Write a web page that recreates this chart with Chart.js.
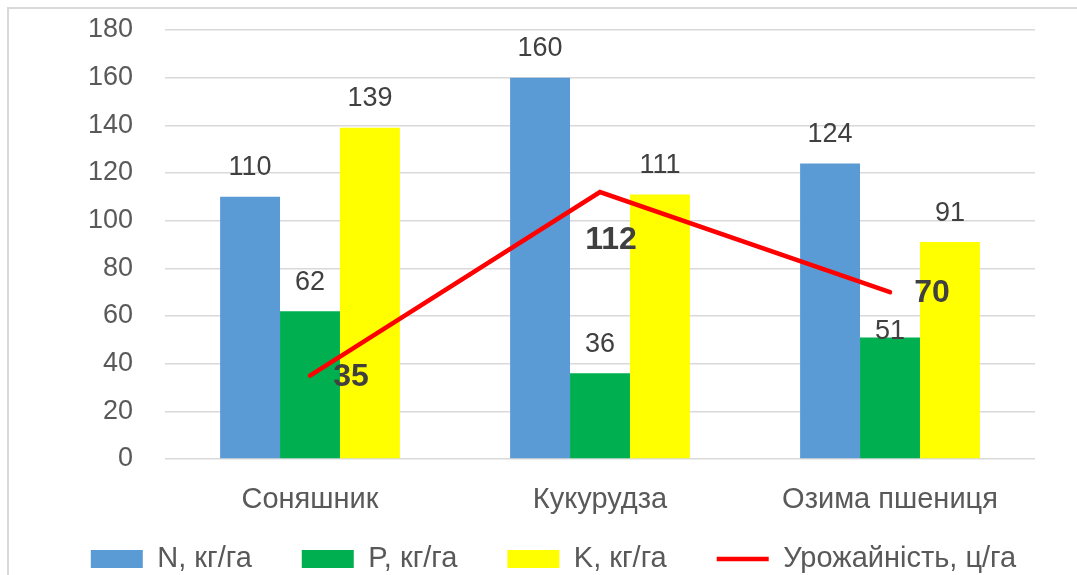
<!DOCTYPE html>
<html><head><meta charset="utf-8">
<script src="https://cdn.jsdelivr.net/npm/chart.js@4/dist/chart.umd.min.js"></script>
<style>html,body{margin:0;padding:0;background:#fff}#wrap{width:1077px;height:575px;position:relative}</style>
</head><body><div id="wrap"><canvas id="c" width="1077" height="575"></canvas></div>
<script>
const categories = ["Соняшник", "Кукурудза", "Озима пшениця"];
const nValues = [110, 160, 124];
const pValues = [62, 36, 51];
const kValues = [139, 111, 91];
const yieldValues = [35, 112, 70];
const yTicks = [0, 20, 40, 60, 80, 100, 120, 140, 160, 180];
const seriesNames = ["N, кг/га", "P, кг/га", "K, кг/га", "Урожайність, ц/га"];

const FONT = "'Liberation Sans', Arial, sans-serif";
const TXT = "#595959";
const LEG_PAD = 50;
const LEG_FONT = 29;

const framePlugin = {
  id: 'frame',
  beforeDraw(chart) {
    const ctx = chart.ctx;
    ctx.save();
    ctx.fillStyle = '#fff';
    ctx.fillRect(0, 0, chart.width, chart.height);
    ctx.strokeStyle = '#d9d9d9';
    ctx.lineWidth = 2;
    ctx.beginPath();
    ctx.moveTo(8, chart.height + 5);
    ctx.lineTo(8, 8);
    ctx.lineTo(chart.width + 5, 8);
    ctx.stroke();
    ctx.restore();
  }
};

const legendFix = {
  id: 'legendFix',
  beforeUpdate(chart) {
    const lg = chart.legend;
    if (lg && !lg.__patched) {
      const orig = lg.fit;
      lg.fit = function () { orig.call(this); this.height = 30; };
      lg.__patched = true;
    }
  },
  afterLayout(chart) {
    const lg = chart.legend;
    if (!lg) return;
    lg.left += 36; lg.right += 36;
    lg.top = 559 - LEG_PAD - LEG_FONT / 2;
    lg.bottom = chart.height;
  }
};

const labelPlugin = {
  id: 'valueLabels',
  afterDatasetsDraw(chart) {
    const ctx = chart.ctx;
    ctx.save();
    ctx.textAlign = 'center';
    ctx.textBaseline = 'middle';
    chart.data.datasets.forEach((ds, di) => {
      const meta = chart.getDatasetMeta(di);
      meta.data.forEach((el, i) => {
        const v = ds.data[i];
        if (ds.type === 'line') {
          const off = [[41, 2], [11, 48], [42, 1]][i];
          ctx.font = "bold 32px " + FONT;
          ctx.fillStyle = '#404040';
          ctx.fillText(String(v), el.x + off[0], el.y + off[1]);
        } else {
          // Excel nudged the P label of the 3rd group down to avoid the line label
          const dy = (di === 2 && i === 2) ? -6 : -29;
          ctx.font = "27px " + FONT;
          ctx.fillStyle = '#404040';
          ctx.fillText(String(v), el.x, el.y + dy);
        }
      });
    });
    ctx.restore();
  }
};

new Chart(document.getElementById('c'), {
  data: {
    labels: categories,
    datasets: [
      { type: 'line', label: seriesNames[3], data: yieldValues, borderColor: '#FF0000', backgroundColor: '#FF0000', borderWidth: 4.5, borderCapStyle: 'round', pointRadius: 0, pointStyle: 'line', order: 0 },
      { type: 'bar', label: seriesNames[0], data: nValues, backgroundColor: '#5B9BD5', pointStyle: 'rect', order: 1 },
      { type: 'bar', label: seriesNames[1], data: pValues, backgroundColor: '#00B050', pointStyle: 'rect', order: 1 },
      { type: 'bar', label: seriesNames[2], data: kValues, backgroundColor: '#FFFF00', pointStyle: 'rect', order: 1 }
    ]
  },
  options: {
    responsive: false,
    animation: false,
    devicePixelRatio: 1,
    datasets: { bar: { categoryPercentage: 0.62, barPercentage: 1 } },
    layout: { padding: { top: 30, right: 42, left: 0, bottom: 0 } },
    plugins: {
      tooltip: { enabled: false },
      legend: {
        position: 'bottom',
        labels: {
          font: { family: FONT, size: LEG_FONT },
          color: TXT,
          usePointStyle: true,
          pointStyleWidth: 52,
          boxHeight: 18,
          padding: LEG_PAD,
          sort: (a, b) => (a.datasetIndex === 0 ? 1 : 0) - (b.datasetIndex === 0 ? 1 : 0)
        }
      }
    },
    scales: {
      x: {
        grid: { display: false, drawTicks: false },
        border: { display: false },
        ticks: { font: { family: FONT, size: 29 }, color: TXT, padding: 24 },
        afterFit(s) { s.height = 86; }
      },
      y: {
        min: 0, max: 180,
        afterBuildTicks(s) { s.ticks = yTicks.map(v => ({ value: v })); },
        grid: { color: '#d9d9d9', lineWidth: 1.5, drawTicks: true, tickLength: 29, tickColor: 'rgba(0,0,0,0)' },
        border: { display: false },
        ticks: { font: { family: FONT, size: 27 }, color: TXT, padding: 3 },
        afterFit(s) { s.width = 165; }
      }
    }
  },
  plugins: [framePlugin, legendFix, labelPlugin]
});
</script></body></html>
